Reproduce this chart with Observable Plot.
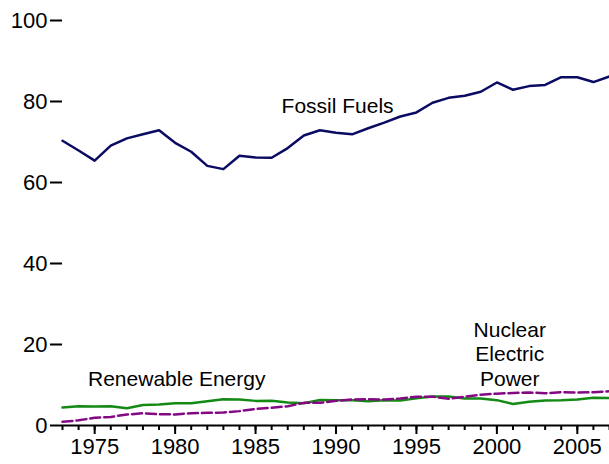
<!DOCTYPE html>
<html>
<head>
<meta charset="utf-8">
<script src="https://cdn.jsdelivr.net/npm/d3@7"></script>
<script src="https://cdn.jsdelivr.net/npm/@observablehq/plot@0.6"></script>
<style>
  body { margin: 0; background: white; }
  #chart svg { font-family: "Liberation Sans", Arial, sans-serif; }
</style>
</head>
<body>
<div id="chart"></div>
<script>
// years 1973-2007, consumption in quadrillion Btu
const years = d3.range(1973, 2008);
const fossil = [70.3, 67.9, 65.4, 69.1, 70.9, 71.9, 72.9, 69.8, 67.6, 64.1,
  63.3, 66.6, 66.2, 66.1, 68.5, 71.6, 72.9, 72.3, 71.9, 73.4,
  74.8, 76.3, 77.3, 79.7, 80.9, 81.4, 82.4, 84.7, 82.9, 83.8,
  84.1, 86.0, 86.0, 84.8, 86.2];
const nuclear = [0.91, 1.27, 1.90, 2.11, 2.70, 3.02, 2.78, 2.74, 3.01, 3.13,
  3.20, 3.55, 4.08, 4.38, 4.75, 5.59, 5.60, 6.10, 6.42, 6.48,
  6.41, 6.69, 7.08, 7.09, 6.60, 7.07, 7.61, 7.86, 8.03, 8.14,
  7.96, 8.22, 8.16, 8.21, 8.46];
const renewable = [4.43, 4.77, 4.72, 4.77, 4.25, 5.04, 5.17, 5.49, 5.47, 5.98,
  6.50, 6.44, 6.08, 6.13, 5.69, 5.49, 6.29, 6.21, 6.24, 5.99,
  6.26, 6.15, 6.70, 7.17, 7.18, 6.66, 6.68, 6.26, 5.31, 5.89,
  6.15, 6.23, 6.41, 6.86, 6.81];
const yTicks = [0, 20, 40, 60, 80, 100];
const xLabelTicks = [1975, 1980, 1985, 1990, 1995, 2000, 2005];

const labels = [
  {x: 1990.1, y: 79.0, text: "Fossil Fuels"},
  {x: 1980.1, y: 11.6, text: "Renewable Energy"},
  {x: 2000.8, y: 17.8, text: "Nuclear\nElectric\nPower"}
];

const series = (vals) => years.map((yr, i) => ({year: yr, value: vals[i]}));

const chart = Plot.plot({
  width: 609,
  height: 464,
  marginLeft: 62,
  marginRight: 0,
  marginTop: 20,
  marginBottom: 39,
  style: {fontSize: "22px", fontFamily: "Liberation Sans, Arial, sans-serif", color: "black"},
  x: {domain: [1973, 2007]},
  y: {domain: [0, 100]},
  marks: [
    Plot.ruleY([0], {x1: 1973, x2: 2007, stroke: "black", strokeWidth: 2}),
    Plot.axisX({ticks: years, tickSize: 5, tickFormat: () => "", strokeWidth: 2}),
    Plot.axisX({ticks: xLabelTicks, tickSize: 9, tickPadding: 4, tickFormat: d3.format("d"),
      fontSize: 22, strokeWidth: 2, label: null}),
    Plot.axisY({ticks: yTicks, tickSize: 12, tickPadding: 3, fontSize: 22, strokeWidth: 2, label: null}),
    Plot.lineY(series(fossil), {x: "year", y: "value", stroke: "#0b0b63", strokeWidth: 2.5}),
    Plot.lineY(series(renewable), {x: "year", y: "value", stroke: "#148a14", strokeWidth: 2.5}),
    Plot.lineY(series(nuclear), {x: "year", y: "value", stroke: "#840884", strokeWidth: 2.5,
      strokeDasharray: "10,4"}),
    Plot.text(labels, {x: "x", y: "y", text: "text", fontSize: 21, lineHeight: 1.17, fill: "black"})
  ]
});

document.getElementById("chart").append(chart);
</script>
</body>
</html>
